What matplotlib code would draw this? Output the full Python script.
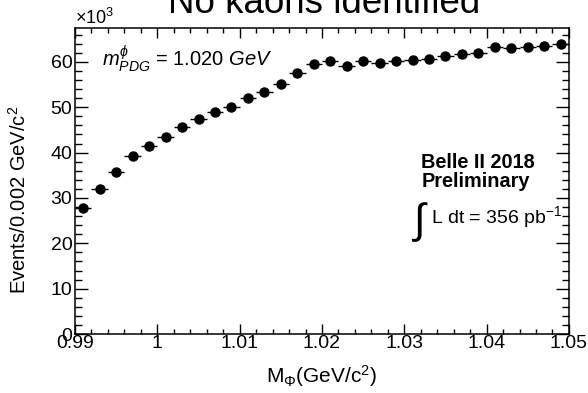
import matplotlib
matplotlib.use("Agg")
import matplotlib.pyplot as plt
from matplotlib.ticker import MultipleLocator, FixedFormatter, FixedLocator
import numpy as np

plt.rcParams["font.family"] = ["Liberation Sans", "DejaVu Sans"]
plt.rcParams["mathtext.fontset"] = "custom"
plt.rcParams["mathtext.rm"] = "Liberation Sans"
plt.rcParams["mathtext.it"] = "Liberation Sans:italic"
plt.rcParams["mathtext.bf"] = "Liberation Sans:bold"

# phi candidate mass bins (GeV/c^2), width 0.002
mass_lo = 0.990
bin_width = 0.002
n_bins = 30
# events per bin, in units of 10^3
events_k = [27.9, 31.9, 35.7, 39.2, 41.4, 43.5, 45.6, 47.5, 48.9, 50.1,
            52.1, 53.4, 55.1, 57.6, 59.5, 60.3, 59.0, 60.1, 59.7, 60.1,
            60.4, 60.7, 61.3, 61.8, 61.9, 63.2, 63.1, 63.3, 63.4, 63.9]
x_ticks = [0.99, 1.0, 1.01, 1.02, 1.03, 1.04, 1.05]
x_tick_labels = ["0.99", "1", "1.01", "1.02", "1.03", "1.04", "1.05"]

centers = mass_lo + bin_width * (np.arange(n_bins) + 0.5)
events = np.array(events_k)

fig = plt.figure(figsize=(5.88, 3.93), dpi=100)
ax = fig.add_axes([0.1276, 0.150, 0.840, 0.779])

ax.errorbar(centers, events, xerr=bin_width / 2, yerr=np.sqrt(events * 1e3) / 1e3,
            fmt="o", color="black", ms=6.5, elinewidth=1.0, capsize=0)

ax.set_xlim(0.99, 1.05)
ax.set_ylim(0, 67.5)

ax.xaxis.set_major_locator(FixedLocator(x_ticks))
ax.xaxis.set_major_formatter(FixedFormatter(x_tick_labels))
ax.xaxis.set_minor_locator(MultipleLocator(0.002))
ax.yaxis.set_major_locator(MultipleLocator(10))
ax.yaxis.set_minor_locator(MultipleLocator(2))

ax.tick_params(which="both", direction="in", top=True, right=True,
               labelsize=14, width=1.0, colors="black")
ax.tick_params(axis="y", which="major", length=9.5)
ax.tick_params(axis="y", which="minor", length=5)
ax.tick_params(axis="x", which="major", length=7)
ax.tick_params(axis="x", which="minor", length=3.8)
ax.tick_params(axis="x", pad=1)
ax.tick_params(axis="y", pad=2)
for s in ax.spines.values():
    s.set_linewidth(1.1)

ax.set_xlabel(r"M$_{\Phi}$(GeV/c$^{2}$)", fontsize=15)
ax.xaxis.set_label_coords(0.5, -0.095)
ax.set_ylabel(r"Events/0.002 GeV/c$^{2}$", fontsize=14.5)
ax.yaxis.set_label_coords(-0.092, 0.44)

fig.text(0.128, 0.939, r"$\times$10$^{3}$", fontsize=13, ha="left", va="baseline")

fig.text(0.552, 0.967, "No kaons identified", fontsize=26.5,
         ha="center", va="baseline")

ax.text(0.055, 0.875, r"$m^{\phi}_{PDG}$ = 1.020 $\it{GeV}$", transform=ax.transAxes,
        fontsize=14.5, ha="left", va="baseline")

ax.text(0.701, 0.48, "Belle II 2018\nPreliminary", transform=ax.transAxes,
        fontsize=14.3, fontweight="bold", ha="left", va="baseline", linespacing=1.0)
ax.text(0.683, 0.33, r"$\int$", transform=ax.transAxes, fontsize=30,
        ha="left", va="baseline")
ax.text(0.72, 0.363, r"L dt = 356 pb$^{\mathregular{-1}}$", transform=ax.transAxes,
        fontsize=14, ha="left", va="baseline")

fig.savefig("out.png", dpi=100)
